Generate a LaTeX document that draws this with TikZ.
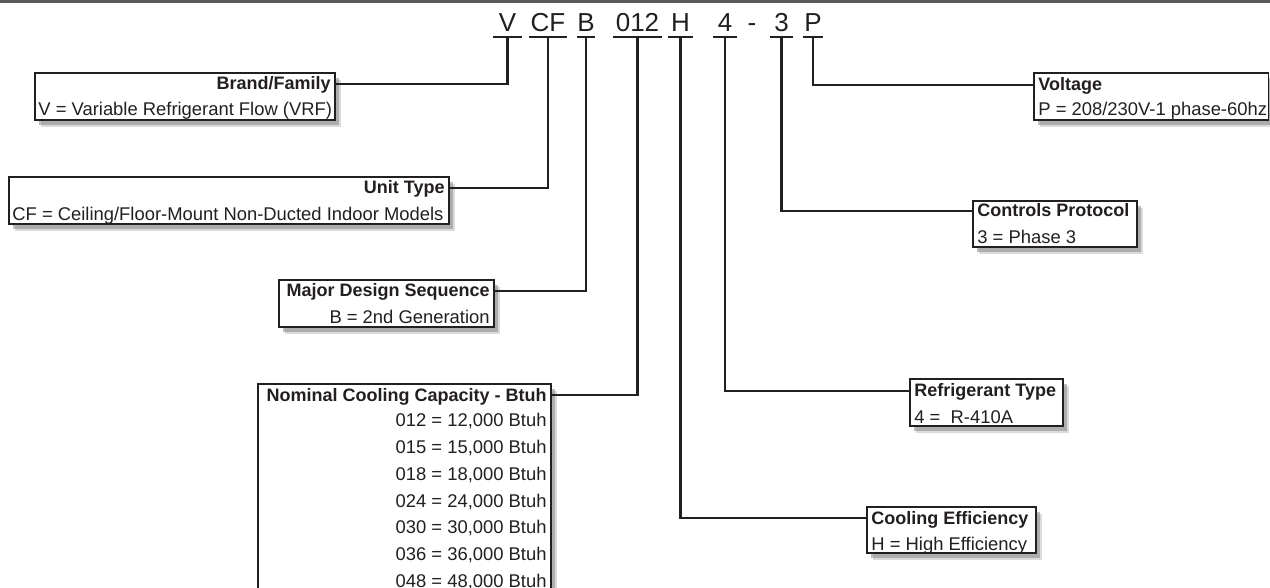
\documentclass[tikz,border=0pt]{standalone}
\usepackage{fontspec}
\setmainfont{Liberation Sans}
\usepackage{tikz}
\usetikzlibrary{positioning, calc, fit, shadows}
\definecolor{ink}{RGB}{35, 31, 32}
\definecolor{rulegray}{RGB}{88, 89, 91}
\tikzstyle{codebox} = [rectangle, draw=ink, line width=0.8pt, fill=white, inner sep=0pt,
    drop shadow={shadow xshift=2.8pt, shadow yshift=-3.6pt, fill=black!40, opacity=0.35},
    drop shadow={shadow xshift=1.8pt, shadow yshift=-2.4pt, fill=black!50, opacity=0.5}]
\tikzstyle{boxtitle} = [inner sep=0pt, font=\fontsize{9}{11}\selectfont\bfseries, text=ink, text height=7pt, text depth=1pt]
\tikzstyle{boxtext} = [inner sep=0pt, font=\fontsize{9.2}{11}\selectfont, text=ink]
\tikzstyle{digit} = [inner xsep=0pt, inner ysep=0pt, font=\fontsize{13}{15}\selectfont, text=ink, text height=9.5pt, text depth=2.5pt]
\tikzstyle{underl} = [line width=1pt, draw=ink]
\tikzstyle{link} = [line width=1.3pt, draw=ink]

\begin{document}
\begin{tikzpicture}[x=0.5pt, y=-0.5pt]
    \useasboundingbox (0,0) rectangle (1270,588);
    \draw[rulegray, line width=1.3pt] (0,1.3) -- (1270,1.3);

    % Model number
    \node[digit, minimum width=14.5pt, anchor=base] (codeV) at (507.5,32) {V};
    \node[digit, minimum width=19pt, anchor=base] (codeCF) at (548,32) {CF};
    \node[digit, minimum width=9pt, anchor=base] (codeB) at (586,32) {B};
    \node[digit, minimum width=24.5pt, anchor=base] (codeCap) at (637.5,32) {012};
    \node[digit, minimum width=12.5pt, anchor=base] (codeH) at (680.5,32) {H};
    \node[digit, minimum width=12pt, anchor=base] (codeR) at (725,32) {4};
    \node[digit, anchor=base] (codeDash) at (752,32) {-};
    \node[digit, minimum width=11.5pt, anchor=base] (codeCtl) at (781.5,32) {3};
    \node[digit, minimum width=10pt, anchor=base] (codeP) at (813,32) {P};
    \foreach \c in {codeV, codeCF, codeB, codeCap, codeH, codeR, codeCtl, codeP}
        \draw[underl] (\c.south west) -- (\c.south east);

    % Left boxes
    \node[codebox, fit={(35,73) (335,120)}] (brand) {};
    \node[boxtitle, anchor=base east] (brandT) at (331,90) {Brand/Family};
    \node[boxtext, anchor=base west] (brandD) at (38,116) {V = Variable Refrigerant Flow (VRF)};

    \node[codebox, fit={(9,177) (449,224)}] (unit) {};
    \node[boxtitle, anchor=base east] (unitT) at (445,194) {Unit Type};
    \node[boxtext, anchor=base west] (unitD) at (12,221) {CF = Ceiling/Floor-Mount Non-Ducted Indoor Models};

    \node[codebox, fit={(279,280) (494,327)}] (design) {};
    \node[boxtitle, anchor=base east] (designT) at (490,297) {Major Design Sequence};
    \node[boxtext, anchor=base east] (designD) at (490,324) {B = 2nd Generation};

    \node[codebox, fit={(258,384) (551,612)}] (cap) {};
    \node[boxtitle, anchor=base east] (capT) at (547,401) {Nominal Cooling Capacity - Btuh};
    \foreach \c/\n [count=\i from 0] in {012/12, 015/15, 018/18, 024/24, 030/30, 036/36, 048/48}
        \node[boxtext, anchor=base east] (capL\i) at ({547}, {427+26.7*\i}) {\c{} = \n,000 Btuh};

    % Right boxes
    \node[codebox, fit={(1034,73) (1268.5,120)}] (volt) {};
    \node[boxtitle, anchor=base west] (voltT) at (1038,91) {Voltage};
    \node[boxtext, anchor=base west] (voltD) at (1038,116) {P = 208/230V-1 phase-60hz};

    \node[codebox, fit={(973,201) (1137,247)}] (ctl) {};
    \node[boxtitle, anchor=base west] (ctlT) at (977,217) {Controls Protocol};
    \node[boxtext, anchor=base west] (ctlD) at (977,244) {3 = Phase 3};

    \node[codebox, fit={(910,379) (1063,426)}] (refrig) {};
    \node[boxtitle, anchor=base west] (refrigT) at (914,397) {Refrigerant Type};
    \node[boxtext, anchor=base west] (refrigD) at (914,423) {4 = ~R-410A};

    \node[codebox, fit={(867,507) (1036,553)}] (effic) {};
    \node[boxtitle, anchor=base west] (efficT) at (871,524) {Cooling Efficiency};
    \node[boxtext, anchor=base west] (efficD) at (871,550) {H = High Efficiency};

    % Leaders
    \draw[link] (codeV.south) |- (brand.east |- brandT);
    \draw[link] (codeCF.south) |- (unit.east |- unitT);
    \draw[link] (codeB.south) |- (design.east |- designT);
    \draw[link] (codeCap.south) |- (cap.east |- capT);
    \draw[link] (codeH.south) |- (effic.west |- efficT);
    \draw[link] (codeR.south) |- (refrig.west |- refrigT);
    \draw[link] (codeCtl.south) |- (ctl.west |- ctlT);
    \draw[link] (codeP.south) |- (volt.west |- voltT);
\end{tikzpicture}
\end{document}
